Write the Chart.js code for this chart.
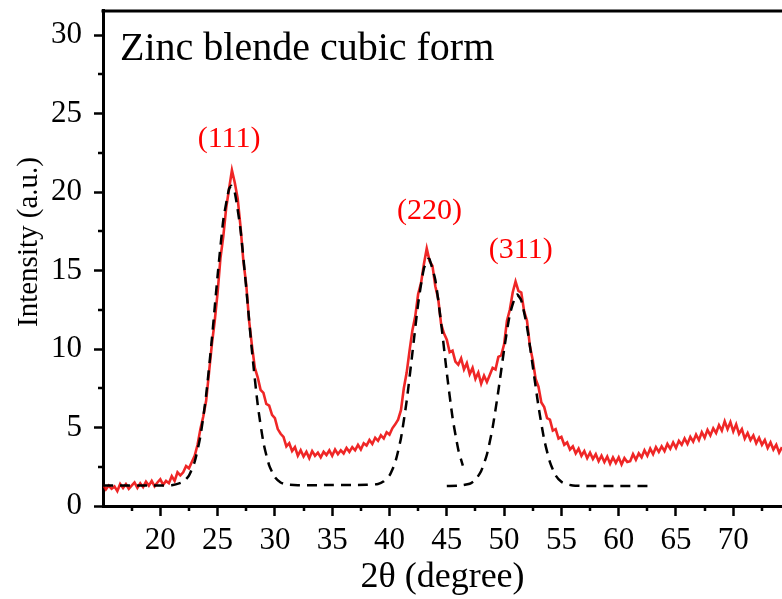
<!DOCTYPE html>
<html>
<head>
<meta charset="utf-8">
<script src="https://cdn.jsdelivr.net/npm/chart.js@4"></script>
<style>
  body { margin: 0; background: #fff; }
  #wrap { width: 782px; height: 599px; position: relative; }
</style>
</head>
<body>
<div id="wrap"><canvas id="xrd"></canvas></div>
<script>
// measured pattern, uniform 0.25 deg step from 15 deg
const redStart = 15;
const redStep = 0.25;
const redY = [
  1.35, 1.05, 1.3, 1.1,   1.25, 0.95, 1.4, 1.15,   1.4, 1.1, 1.3, 1.5,   1.15, 1.45, 1.2, 1.55,
  1.3, 1.6, 1.25, 1.5,    1.7, 1.35, 1.6, 1.45,    1.9, 1.6, 2.15, 1.95, 2.15, 2.55, 2.4, 2.8,
  3.2, 3.9, 4.9, 5.7,     6.7, 8.5, 10.3, 11.8,    13.6, 15.8, 17.2, 19.0, 20.2, 21.4, 20.6, 19.6,
  17.8, 15.6, 14.1, 11.8, 10.2, 8.8, 8.2, 7.4,     7.2, 6.5, 6.4, 5.8,   5.6, 4.9, 4.6, 4.4,
  3.8, 4.0, 3.5, 3.75,    3.2, 3.55, 3.15, 3.45,   3.05, 3.5, 3.2, 3.4,  3.1, 3.45, 3.25, 3.55,
  3.2, 3.6, 3.3, 3.55,    3.35, 3.7, 3.45, 3.75,   3.55, 3.9, 3.6, 4.0,  3.85, 4.2, 3.95, 4.35,
  4.15, 4.5, 4.3, 4.7,    4.55, 4.95, 5.2, 5.5,    6.1, 7.5, 8.5, 9.9,   11.2, 12.1, 13.5, 14.2,
  15.4, 16.4, 15.6, 15.3, 14.0, 13.2, 11.6, 11.0,  10.6, 9.8, 9.9, 9.2,  9.0, 9.4, 8.7, 9.1,
  8.4, 8.8, 8.1, 8.5,     7.8, 8.3, 7.9, 8.35,     8.8, 8.7, 9.5, 9.6,   10.3, 11.8, 12.5, 13.6,
  14.3, 13.7, 13.6, 12.4, 11.8, 10.2, 9.3, 8.1,    7.6, 6.6, 6.3, 5.6,   5.5, 4.8, 4.9, 4.3,
  4.4, 3.9, 4.05, 3.6,    3.8, 3.35, 3.65, 3.2,    3.5, 3.05, 3.4, 3.0,  3.3, 2.85, 3.2, 2.8,
  3.15, 2.7, 3.1, 2.75,   3.1, 2.65, 3.05, 2.8,    2.85, 3.3, 2.95, 3.35, 3.1, 3.55, 3.2, 3.65,
  3.3, 3.75, 3.45, 3.8,   3.5, 3.95, 3.65, 4.05,   3.7, 4.15, 3.9, 4.3,  3.95, 4.4, 4.1, 4.55,
  4.2, 4.7, 4.35, 4.85,   4.5, 4.95, 4.65, 5.15,   4.8, 5.4, 4.9, 5.35,  4.75, 5.2, 4.6, 4.9,
  4.3, 4.65, 4.2, 4.5,    4.0, 4.35, 3.9, 4.2,     3.7, 4.05, 3.6, 3.9,  3.4, 3.75
];

// fitted peaks (dashed): (111) + (220)
const fitAX = [15, 16, 17, 18, 19, 20, 21, 22, 22.5, 23, 23.5, 24, 24.5, 25, 25.5, 26, 26.2, 26.5, 27, 27.5,
  28, 28.5, 29, 29.5, 30, 30.5, 31, 32, 33, 34, 35, 36, 37, 38, 39, 39.5, 40, 40.5, 41, 41.5,
  42, 42.5, 43, 43.4, 43.5, 44, 44.5, 45, 45.5, 46, 46.4];
const fitAY = [1.3, 1.3, 1.3, 1.3, 1.3, 1.3, 1.32, 1.54, 1.94, 2.82, 4.45, 7.06, 10.64, 14.67, 18.22, 20.21, 20.4, 19.98, 17.6, 13.87,
  9.86, 6.46, 4.04, 2.59, 1.84, 1.5, 1.37, 1.32, 1.32, 1.33, 1.33, 1.34, 1.34, 1.35, 1.4, 1.57, 1.95, 2.78, 4.32, 6.7,
  9.76, 12.88, 15.13, 15.75, 15.71, 14.4, 11.68, 8.49, 5.64, 3.6, 2.57];

// fitted peak (dashed): (311)
const fitBX = [45, 46, 47, 47.5, 48, 48.5, 49, 49.5, 50, 50.5, 51, 51.15, 51.5, 52, 52.5, 53, 53.5, 54, 54.5, 55,
  55.5, 56, 57, 58, 59, 60, 61, 62, 63];
const fitBY = [1.27, 1.29, 1.42, 1.67, 2.23, 3.28, 5.0, 7.34, 9.96, 12.2, 13.4, 13.47, 13.09, 11.41, 8.92, 6.35, 4.23, 2.8, 1.95, 1.54,
  1.38, 1.31, 1.28, 1.27, 1.27, 1.27, 1.27, 1.27, 1.27];

const xMajor = [20, 25, 30, 35, 40, 45, 50, 55, 60, 65, 70];
const xMinor = [17.5, 22.5, 27.5, 32.5, 37.5, 42.5, 47.5, 52.5, 57.5, 62.5, 67.5, 72.5];
const yMajor = [0, 5, 10, 15, 20, 25, 30];
const yMinor = [2.5, 7.5, 12.5, 17.5, 22.5, 27.5];

const peakLabels = ['(111)', '(220)', '(311)'];
const peakX = [26.0, 43.5, 51.45];
const peakY = [23.4, 18.8, 16.3];

const serif = "'Liberation Serif', 'Times New Roman', serif";

const zip = (xs, ys) => xs.map((x, i) => ({ x: x, y: ys[i] }));
const redPts = redY.map((y, i) => ({ x: redStart + i * redStep, y: y }));

const extras = {
  id: 'extras',
  afterDraw(chart) {
    const { ctx, chartArea: a, scales: { x, y } } = chart;
    ctx.save();
    ctx.strokeStyle = '#000';
    ctx.lineWidth = 3;
    // top frame
    ctx.beginPath();
    ctx.moveTo(a.left - 1.5, a.top + 1);
    ctx.lineTo(a.right, a.top + 1);
    ctx.stroke();
    // minor ticks
    ctx.lineWidth = 2.5;
    ctx.beginPath();
    xMinor.forEach(v => {
      const px = Math.round(x.getPixelForValue(v));
      ctx.moveTo(px, a.bottom);
      ctx.lineTo(px, a.bottom + 5);
    });
    yMinor.forEach(v => {
      const py = Math.round(y.getPixelForValue(v));
      ctx.moveTo(a.left, py);
      ctx.lineTo(a.left - 5, py);
    });
    ctx.stroke();

    // title inside the plot
    ctx.fillStyle = '#000';
    ctx.font = '40px ' + serif;
    ctx.textAlign = 'left';
    ctx.textBaseline = 'alphabetic';
    ctx.fillText('Zinc blende cubic form', a.left + 17, a.top + 50);

    // y axis title
    ctx.save();
    ctx.translate(37, 242);
    ctx.rotate(-Math.PI / 2);
    ctx.font = '29px ' + serif;
    ctx.textAlign = 'center';
    ctx.fillText('Intensity (a.u.)', 0, 0);
    ctx.restore();

    // peak labels
    ctx.fillStyle = '#ff0000';
    ctx.font = '30px ' + serif;
    ctx.textAlign = 'center';
    ctx.textBaseline = 'middle';
    peakLabels.forEach((t, i) => {
      ctx.fillText(t, x.getPixelForValue(peakX[i]), y.getPixelForValue(peakY[i]));
    });
    ctx.restore();
  }
};

new Chart(document.getElementById('xrd'), {
  type: 'line',
  data: {
    datasets: [
      {
        data: zip(fitAX, fitAY),
        borderColor: '#000',
        borderWidth: 2.5,
        borderDash: [10, 7],
        pointRadius: 0,
        tension: 0.2
      },
      {
        data: zip(fitBX, fitBY),
        borderColor: '#000',
        borderWidth: 2.5,
        borderDash: [10, 7],
        pointRadius: 0,
        tension: 0.2
      },
      {
        data: redPts,
        borderColor: 'rgba(236, 0, 0, 0.85)',
        borderWidth: 2.6,
        pointRadius: 0,
        tension: 0
      }
    ]
  },
  options: {
    responsive: true,
    maintainAspectRatio: false,
    animation: false,
    layout: { padding: { top: 10, right: 0, bottom: 0, left: 0 } },
    plugins: {
      legend: { display: false },
      tooltip: { enabled: false }
    },
    scales: {
      x: {
        type: 'linear',
        min: 15,
        max: 74.25,
        afterBuildTicks: s => { s.ticks = xMajor.map(v => ({ value: v })); },
        afterFit: s => { s.height = 93; s.paddingLeft = 0; s.paddingRight = 0; },
        grid: { drawOnChartArea: false, tickLength: 10, tickWidth: 2.5, tickColor: '#000' },
        border: { color: '#000', width: 3 },
        ticks: { color: '#000', padding: 6, maxRotation: 0, font: { family: serif, size: 31 } },
        title: {
          display: true,
          text: '2θ (degree)',
          color: '#000',
          padding: { top: 0, bottom: 0 },
          font: { family: serif, size: 36 }
        }
      },
      y: {
        min: 0,
        max: 31.6,
        afterBuildTicks: s => { s.ticks = yMajor.map(v => ({ value: v })); },
        afterFit: s => { s.width = 103; s.paddingTop = 0; s.paddingBottom = 0; },
        grid: { drawOnChartArea: false, tickLength: 9, tickWidth: 2.5, tickColor: '#000' },
        border: { color: '#000', width: 3 },
        ticks: { color: '#000', padding: 12, font: { family: serif, size: 31, lineHeight: 0.5 } }
      }
    }
  },
  plugins: [extras]
});
</script>
</body>
</html>
